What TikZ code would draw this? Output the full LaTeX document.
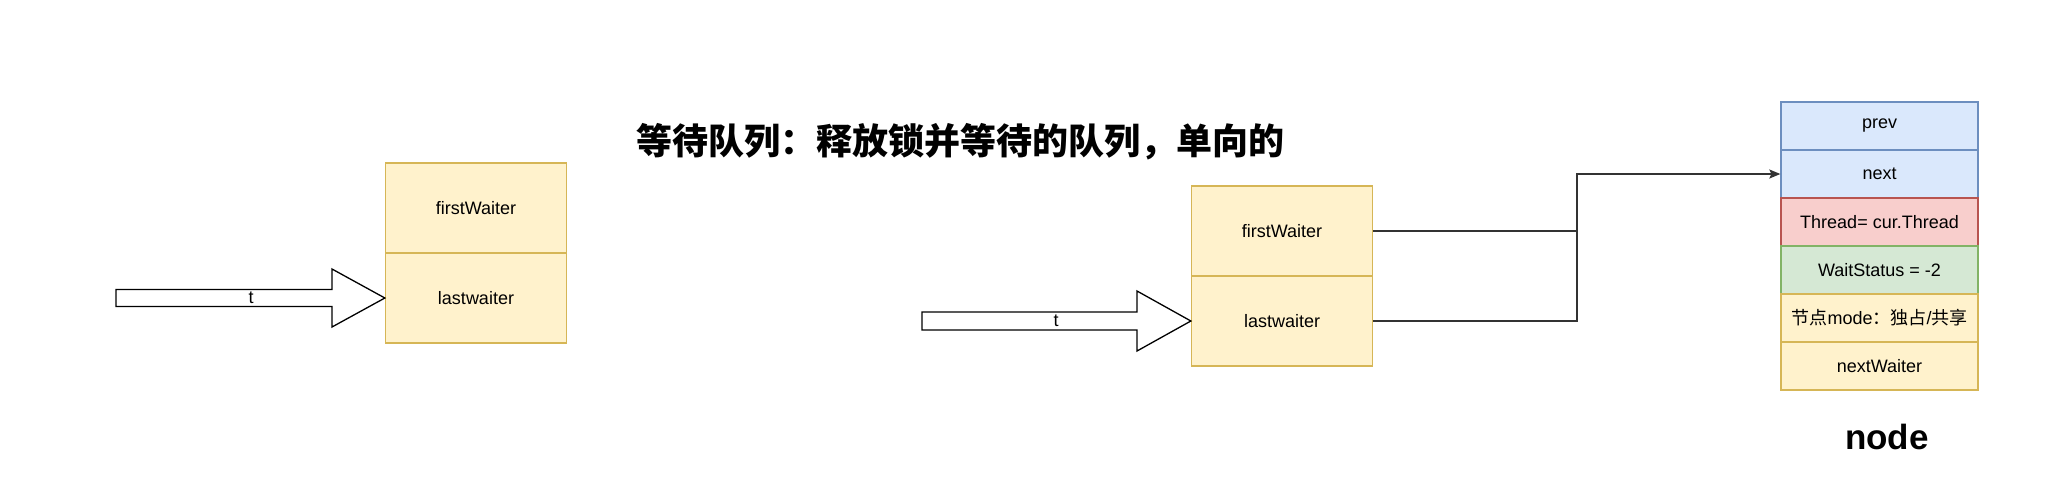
\documentclass[tikz,border=0pt]{standalone}
\usepackage{fontspec}
\setmainfont{Liberation Sans}
\newfontfamily\cjk{Noto Sans CJK SC}
\usetikzlibrary{arrows.meta}
\definecolor{ylfill}{HTML}{FFF2CC}
\definecolor{ylline}{HTML}{D6B656}
\definecolor{blfill}{HTML}{DAE8FC}
\definecolor{blline}{HTML}{6C8EBF}
\definecolor{rdfill}{HTML}{F8CECC}
\definecolor{rdline}{HTML}{B85450}
\definecolor{grfill}{HTML}{D5E8D4}
\definecolor{grline}{HTML}{82B366}
\definecolor{connc}{HTML}{333333}
\tikzset{
  txt/.style={font=\fontsize{18}{21}\selectfont},
  cell/.style={txt, draw, line width=1.3pt, inner sep=0pt, align=center},
  bigcell/.style={cell, fill=ylfill, draw=ylline, minimum width=181pt, minimum height=90pt},
  ncell/.style={cell, minimum width=197pt, minimum height=48pt},
  ycell/.style={ncell, fill=ylfill, draw=ylline},
  bcell/.style={ncell, fill=blfill, draw=blline},
  rcell/.style={ncell, fill=rdfill, draw=rdline},
  gcell/.style={ncell, fill=grfill, draw=grline},
  blockarrow/.style={draw=black, fill=white, line width=1.3pt, line join=miter},
  conn/.style={draw=connc, line width=1.6pt},
}
\begin{document}
\begin{tikzpicture}[x=1pt,y=-1pt]
\useasboundingbox (0,0) rectangle (2066,480);

% title
\node[font=\cjk\bfseries\fontsize{36}{40}\selectfont] (title) at (960,142) {等待队列：释放锁并等待的队列，单向的};

% left structure
\node[bigcell] (lf) at (476,208) {firstWaiter};
\node[bigcell] (ll) at (476,298) {lastwaiter};
\draw[blockarrow] (116,289.5) -- (332,289.5) -- (332,269) -- (ll.west) -- (332,327) -- (332,306.5) -- (116,306.5) -- cycle;
\node[txt] (lt) at (251,298) {t};

% middle structure
\node[bigcell] (mf) at (1282,231) {firstWaiter};
\node[bigcell] (ml) at (1282,321) {lastwaiter};
\draw[blockarrow] (922,312) -- (1137,312) -- (1137,291) -- (ml.west) -- (1137,351) -- (1137,330) -- (922,330) -- cycle;
\node[txt] (mt) at (1056,321) {t};

% node structure
\node[bcell] (nprev) at (1879.5,126) {prev};
\node[bcell] (nnext) at (1879.5,174) {next};
\node[rcell] (nthread) at (1879.5,222) {Thread= cur.Thread};
\node[gcell] (nstatus) at (1879.5,270) {WaitStatus = -2};
\node[ycell] (nmode) at (1879.5,318) {{\cjk 节点}mode{\cjk ：独占}/{\cjk 共享}};
\node[ycell] (nwaiter) at (1879.5,366) {nextWaiter};
\node[font=\bfseries\fontsize{35}{40}\selectfont] (nlabel) at (1887,437) {node};

% connectors
\coordinate (j) at (1577,174);
\draw[conn, -{Stealth[length=11pt,width=9pt,inset=2pt]}] (mf.east) -| (j) -- (nnext.west);
\draw[conn] (ml.east) -| (j);
\end{tikzpicture}
\end{document}
